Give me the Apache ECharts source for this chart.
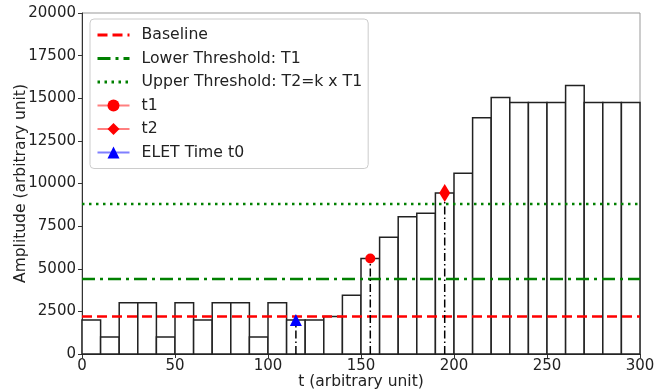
<!DOCTYPE html>
<html>
<head>
<meta charset="utf-8">
<script src="https://cdn.jsdelivr.net/npm/echarts@6/dist/echarts.min.js"></script>
<style>
  html, body { margin: 0; padding: 0; background: #fff; }
  #chart { width: 657px; height: 392px; }
</style>
</head>
<body>
<div id="chart"></div>
<script>
// histogram bins (start, width 10)
const binStart = [0, 10, 20, 30, 40, 50, 60, 70, 80, 90, 100, 110, 120, 130, 140,
  150, 160, 170, 180, 190, 200, 210, 220, 230, 240, 250, 260, 270, 280, 290]
const binEnd = [10, 20, 30, 40, 50, 60, 70, 80, 90, 100, 110, 120, 130, 140, 150,
  160, 170, 180, 190, 200, 210, 220, 230, 240, 250, 260, 270, 280, 290, 300]
const amplitude = [2000, 1000, 3000, 3000, 1000, 3000, 2000, 3000, 3000, 1000, 3000, 2000, 2000, 2200, 3450,
  5600, 6850, 8050, 8250, 9450, 10600, 13850, 15050, 14750, 14750, 14750, 15750, 14750, 14750, 14750]

const baseline = 2200
const lowerThreshold = 4400
const upperThreshold = 8800

const t0Point = [115, 2000]
const t1Point = [155, 5600]
const t2Point = [195, 9450]

const xRange = [0, 300]

const bars = binStart.map((s, i) => [s, binEnd[i], amplitude[i]])

const chart = echarts.init(document.getElementById('chart'))

const font = 'DejaVu Sans'

const hLine = (name, y, color, type) => ({
  name,
  type: 'line',
  data: xRange.map((x) => [x, y]),
  symbol: 'none',
  lineStyle: { color, width: 2.5, type },
  itemStyle: { color },
  z: 4,
  silent: true,
})

const marker = (name, pt, symbol, size, color, lineColor) => ({
  name,
  type: 'line',
  data: [pt],
  symbol,
  symbolSize: size,
  itemStyle: { color },
  lineStyle: { color: lineColor, width: 2 },
  z: 10,
})

const dropLine = (pt) => ({
  type: 'line',
  data: [[pt[0], 0], pt],
  symbol: 'none',
  lineStyle: { color: '#000', width: 1.5, type: [8, 3, 1.5, 3] },
  z: 5,
  silent: true,
})

const noSymbol = { itemStyle: { opacity: 0 }, lineStyle: { width: 3 } }

const option = {
  animation: false,
  textStyle: { fontFamily: font },
  grid: {
    left: 82, right: 17, top: 13, bottom: 38,
    outerBoundsMode: 'none',
    containLabel: false,
    show: true, borderColor: '#999', borderWidth: 1,
  },
  legend: {
    data: [
      { name: 'Baseline', ...noSymbol },
      { name: 'Lower Threshold: T1', ...noSymbol },
      { name: 'Upper Threshold: T2=k x T1', ...noSymbol },
      't1', 't2', 'ELET Time t0',
    ],
    orient: 'vertical',
    left: 90,
    top: 19,
    padding: [8, 6, 8, 6],
    itemGap: 7.5,
    itemWidth: 32,
    itemHeight: 15,
    borderColor: '#ccc',
    borderWidth: 1,
    borderRadius: 4,
    backgroundColor: 'rgba(255,255,255,0.8)',
    textStyle: { fontSize: 15.7, color: '#222', fontFamily: font, padding: [0, 0, 0, 7] },
  },
  xAxis: {
    type: 'value',
    min: 0, max: 300, interval: 50,
    name: 't (arbitrary unit)',
    nameLocation: 'middle',
    nameGap: 20,
    nameMoveOverlap: false,
    nameTextStyle: { fontSize: 15.5, color: '#222', fontFamily: font },
    axisLine: { lineStyle: { color: '#333' } },
    axisTick: { length: 4, lineStyle: { color: '#333' } },
    axisLabel: { fontSize: 15, color: '#222', fontFamily: font, margin: 5 },
    splitLine: { show: false },
  },
  yAxis: {
    type: 'value',
    min: 0, max: 20000, interval: 2500,
    name: 'Amplitude (arbitrary unit)',
    nameLocation: 'middle',
    nameGap: 53,
    nameMoveOverlap: false,
    nameTextStyle: { fontSize: 15.5, color: '#222', fontFamily: font },
    axisLine: { show: true, lineStyle: { color: '#333' } },
    axisTick: { show: true, length: 4, lineStyle: { color: '#333' } },
    axisLabel: { fontSize: 15, color: '#222', fontFamily: font, margin: 6, formatter: (v) => String(v) },
    splitLine: { show: false },
  },
  series: [
    {
      type: 'custom',
      data: bars,
      encode: { x: [0, 1], y: 2 },
      z: 2,
      silent: true,
      renderItem: (params, api) => {
        const p0 = api.coord([api.value(0), api.value(2)])
        const p1 = api.coord([api.value(1), 0])
        return {
          type: 'rect',
          shape: { x: p0[0], y: p0[1], width: p1[0] - p0[0], height: p1[1] - p0[1] },
          style: { fill: '#fff', stroke: '#222', lineWidth: 1.5 },
        }
      },
    },
    hLine('Baseline', baseline, '#ff0000', [10, 5]),
    hLine('Lower Threshold: T1', lowerThreshold, '#008000', [13, 5, 3, 5]),
    hLine('Upper Threshold: T2=k x T1', upperThreshold, '#008000', [2.5, 4.5]),
    dropLine(t0Point),
    dropLine(t1Point),
    dropLine(t2Point),
    marker('t1', t1Point, 'circle', 10, '#ff0000', 'rgba(255,0,0,0.5)'),
    marker('t2', t2Point, 'diamond', [11, 18], '#ff0000', 'rgba(255,0,0,0.5)'),
    marker('ELET Time t0', t0Point, 'triangle', [12, 12], '#0000ff', 'rgba(0,0,255,0.5)'),
  ],
}

chart.setOption(option)
</script>
</body>
</html>
